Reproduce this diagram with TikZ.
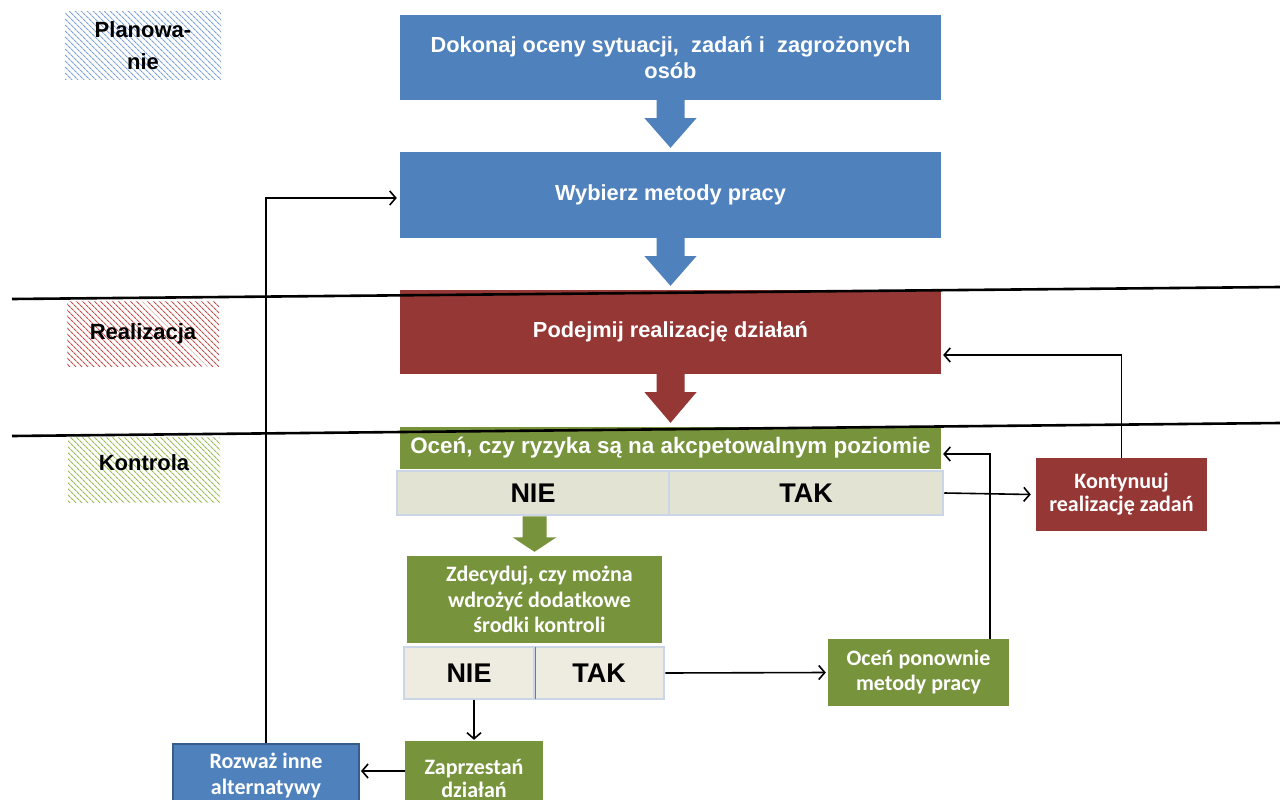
\documentclass[tikz,border=0pt]{standalone}
\usepackage{fontspec}
\setmainfont{Liberation Sans}
\newfontfamily\calib{Carlito}
\usetikzlibrary{patterns.meta,arrows.meta,calc}
\definecolor{cblue}{HTML}{4F81BD}
\definecolor{cblued}{HTML}{385D8A}
\definecolor{cred}{HTML}{953735}
\definecolor{cgreen}{HTML}{77933C}
\definecolor{cellA}{HTML}{E3E3D4}
\definecolor{cellB}{HTML}{EEECE1}
\definecolor{cellbd}{HTML}{CAD5E6}
\definecolor{hblue}{HTML}{7FA3D3}
\definecolor{hred}{HTML}{C0504D}
\definecolor{hgreen}{HTML}{9BBB59}
\newcommand\fatarrow[6]{%
  \fill[#1] ($(#2)+(-#4,0)$) -- ($(#2)+(-#4,#6)$) -- ($(#2)+(-#5,#6)$) -- ($(#3)+(0,-4)$)
    -- ($(#2)+(#5,#6)$) -- ($(#2)+(#4,#6)$) -- ($(#2)+(#4,0)$) -- cycle;}
\begin{document}
\begin{tikzpicture}[x=1pt,y=-1pt,
  bigbox/.style={inner sep=0pt,align=center,text=white,font=\fontsize{21.8}{26}\selectfont\bfseries},
  smallbox/.style={inner sep=0pt,align=center,text=white,font=\calib\fontsize{22}{25.5}\selectfont\bfseries},
  cellA/.style={inner sep=0pt,fill=cellA,draw=cellbd,line width=2.5pt,font=\fontsize{27}{30}\selectfont\bfseries},
  cellB/.style={inner sep=0pt,fill=cellB,draw=cellbd,line width=2.5pt,font=\fontsize{27}{30}\selectfont\bfseries},
  phase/.style={inner sep=0pt,align=center,font=\fontsize{22}{32}\selectfont\bfseries},
  arr/.style={line width=1.6pt,-{Straight Barb[length=6pt,width=14pt,line width=1.6pt]}},
  divline/.style={line width=2.6pt}]
\clip (0,0) rectangle (1280,800);
\fill[white] (0,0) rectangle (1280,800);

% phase labels
\node[phase,minimum width=156,minimum height=68,pattern={Lines[angle=-45,distance=4pt,line width=1.1pt]},pattern color=hblue] (plan) at (143,46) {Planowa-\\nie};
\node[phase,minimum width=152,minimum height=65,pattern={Lines[angle=-45,distance=4pt,line width=1.1pt]},pattern color=hred] (real) at (143,333.5) {Realizacja};
\node[phase,minimum width=152,minimum height=65,pattern={Lines[angle=-45,distance=4pt,line width=1.1pt]},pattern color=hgreen,text depth=14pt] (kontr) at (144,469.5) {Kontrola};

% main boxes
\node[bigbox,fill=cblue,minimum width=541,minimum height=85] (b1) at (670.5,57.5) {Dokonaj oceny sytuacji,\ \ zadań i\ \ zagrożonych\\osób};
\node[bigbox,fill=cblue,minimum width=541,minimum height=86] (b2) at (670.5,195) {Wybierz metody pracy};
\node[bigbox,fill=cred,minimum width=541,minimum height=84] (b3) at (670.5,332) {Podejmij realizację działań};
\node[bigbox,fill=cgreen,minimum width=541,minimum height=42,font=\fontsize{22.4}{26}\selectfont\bfseries] (b4) at (670.5,448) {Oceń, czy ryzyka są na akcpetowalnym poziomie};

\node[cellA,minimum width=272,minimum height=44] (nie1) at (533,493) {NIE};
\node[cellA,minimum width=274,minimum height=44] (tak1) at (806,493) {TAK};

\node[smallbox,fill=cgreen,minimum width=255,minimum height=87] (b5) at (534.5,599.5) {\ \ Zdecyduj, czy można\\\ \ wdrożyć dodatkowe\\\ \ środki kontroli};
\node[cellB,minimum width=130,minimum height=52] (nie2) at (469,673) {NIE};
\node[cellB,minimum width=130,minimum height=52] (tak2) at (599,673) {TAK};
\draw[cblue,line width=1pt] ([yshift=-1.5pt]nie2.north east) -- ([yshift=1.5pt]nie2.south east);

\node[smallbox,fill=cgreen,minimum width=138,minimum height=74,font=\calib\fontsize{22}{23}\selectfont\bfseries] (zapr) at (474,778) {Zaprzestań\\działań};
\node[smallbox,fill=cblue,draw=cblued,line width=2pt,minimum width=186,minimum height=62,font=\calib\fontsize{22}{26}\selectfont\bfseries] (rozw) at (266,775) {Rozważ inne\\alternatywy};
\node[smallbox,fill=cgreen,minimum width=181,minimum height=67,font=\calib\fontsize{22}{25}\selectfont\bfseries] (ocen) at (918.5,672.5) {Oceń ponownie\\metody pracy};
\node[smallbox,fill=cred,minimum width=171,minimum height=73,font=\calib\fontsize{22}{23}\selectfont\bfseries] (kont) at (1121.5,494.5) {Kontynuuj\\realizację zadań};

% phase divider lines
\coordinate (l1a) at (12,299); \coordinate (l1b) at (1280,287);
\coordinate (l2a) at (12,436); \coordinate (l2b) at (1280,423);

% fat arrows
\fatarrow{cblue}{b1.south}{b2.north}{14}{26}{18}
\fatarrow{cblue}{b2.south}{b3.north}{14}{26}{18}
\fatarrow{cred}{b3.south}{b4.north}{14}{26}{18}
\fatarrow{cgreen}{nie1.south -| b5.north}{b5.north}{12}{22}{21}

\draw[divline] (l1a) -- (l1b);
\draw[divline] (l2a) -- (l2b);

% connectors
\draw[arr] (rozw.north) |- ([xshift=-3pt,yshift=-3pt]b2.west);
\draw[arr] (kont.north) |- ([xshift=2pt,yshift=-23pt]b3.east);
\draw[arr] ([xshift=71.5pt]ocen.north) |- ([xshift=2pt,yshift=-6pt]b4.east);
\draw[arr] (tak1.east) -- ([xshift=-5pt]kont.west);
\draw[arr] (tak2.east) -- ([xshift=-2pt]ocen.west);
\draw[arr] (zapr.north |- nie2.south) -- ([yshift=1pt]zapr.north);
\draw[arr] ([yshift=7pt]zapr.west) -- ([xshift=1pt,yshift=7pt]zapr.west -| rozw.east);
\end{tikzpicture}
\end{document}
